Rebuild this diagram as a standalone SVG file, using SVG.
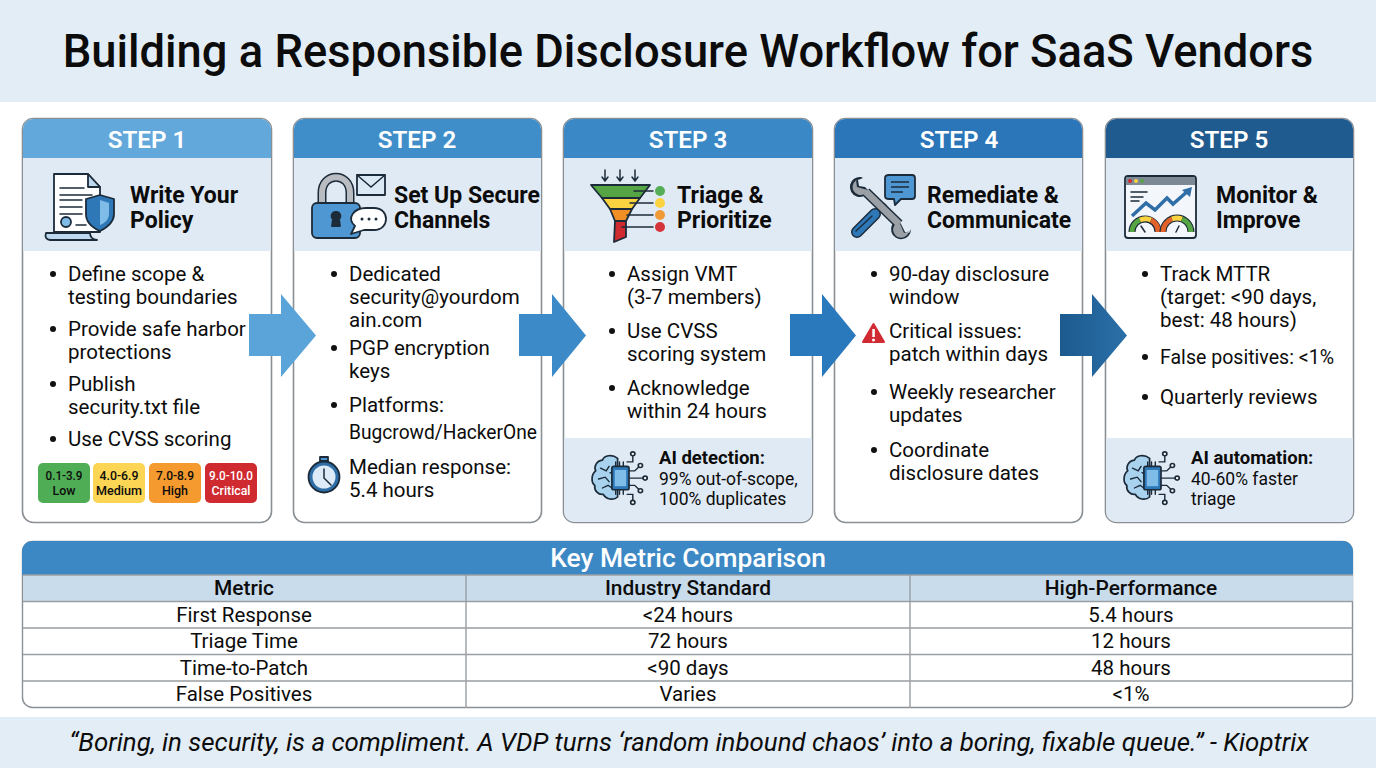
<svg xmlns="http://www.w3.org/2000/svg" width="1376" height="768" viewBox="0 0 1376 768">
<style>
text{font-family:Roboto,"Noto Sans","Liberation Sans",sans-serif;fill:#0c0c0c}
.title{font-size:45.300px;font-weight:500;text-anchor:middle}
.step{font-size:24.200px;font-weight:600;fill:#fff;text-anchor:middle}
.head{font-size:23px;font-weight:700}
.b{font-size:20.500px}
.ai{font-size:17.500px}
.aih{font-size:18.500px;font-weight:700}
.card{fill:#fff;stroke:#8a8f94;stroke-width:1.6}
.band{fill:#e0eaf4}
.bul{fill:#111}
.th{font-size:20.900px;font-weight:500;text-anchor:middle}
.td{font-size:20.500px;text-anchor:middle}
.rule{stroke:#9a9ea2;stroke-width:1.4;fill:none}
.sev{font-size:13.500px;font-weight:500;text-anchor:middle}
.ic{stroke:#1c2b3a;stroke-width:1.8;stroke-linejoin:round;stroke-linecap:round}
.thin{fill:none;stroke:#1c2b3a;stroke-width:1.5;stroke-linecap:round}
</style>
<defs>
<g id="brain">
<path class="ic" fill="#a9d2ee" d="M28 -3C22 -8 14 -6 12 -1C5 0 3 7 5 11C0 15 0 24 4 27C3 33 8 38 13 37C16 43 24 44 28 40Z"/>
<path class="thin" d="M10 8l6 3l3 -5M8 20l7 -2l4 5M12 30l6 -3l4 3M20 13l5 2"/>
<rect class="ic" x="22" y="6" width="18" height="26" rx="2" fill="#2f78b8"/>
<rect x="25" y="10" width="12" height="18" fill="#7fbce8"/>
<path class="thin" d="M26 6v-5M30 6v-5M34 6v-5M26 32v5M30 32v5M34 32v5M40 11h6l4 -4M40 19h15M40 27h6l4 4M38 1h6v-7M38 37h6v7"/>
<circle class="ic" cx="44" cy="-8" r="2.2" fill="#fff"/><circle class="ic" cx="52" cy="5" r="2.2" fill="#fff"/><circle class="ic" cx="57" cy="19" r="2.2" fill="#fff"/><circle class="ic" cx="52" cy="33" r="2.2" fill="#fff"/><circle class="ic" cx="44" cy="46" r="2.2" fill="#fff"/>
</g>
<linearGradient id="a4" x1="0" x2="1"><stop offset="0" stop-color="#1c5a8e"/><stop offset="1" stop-color="#2a70a8"/></linearGradient>
</defs>

<rect width="1376" height="102" fill="#e3edf6"/>
<rect y="717" width="1376" height="51" fill="#e3edf6"/>
<text class="title" x="688" y="67">Building a Responsible Disclosure Workflow for SaaS Vendors</text>

<g id="step1">
<rect class="card" x="22.500" y="118.500" width="249" height="404" rx="11"/>
<path d="M23 251V129a10 10 0 0 1 10 -10H261a10 10 0 0 1 10 10V251Z" class="band"/>
<path d="M23 158V129a10 10 0 0 1 10 -10H261a10 10 0 0 1 10 10V158Z" fill="#63a8db"/>
<text class="step" x="147" y="148">STEP 1</text>
<path class="ic" fill="#fff" d="M54 174H88L100 187V232H54Z"/><path class="ic" fill="#bcd9ef" d="M88 174V187H100Z"/>
<path class="thin" d="M60 188H84M60 195H92M60 200H82M60 207H82M60 214H82M76 225H86"/>
<circle class="ic" cx="66" cy="222" r="5" fill="#7fbce8"/>
<path class="ic" fill="#bcd9ef" d="M46 233H90Q90 239 97 240H50Q44 239 46 233Z"/>
<path class="ic" fill="#2f78b8" d="M100 195L114 199V214C114 223 106 228 100 231C93 228 86 223 86 214V199Z"/>
<path fill="#7fbce8" d="M100 200L109 203V214C109 219 105 223 100 225Z"/>
<text class="head" x="130" y="203">Write Your</text><text class="head" x="130" y="228">Policy</text>
<circle class="bul" cx="53" cy="274" r="3"/><text class="b" x="68" y="281">Define scope &amp;</text><text class="b" x="68" y="304">testing boundaries</text>
<circle class="bul" cx="53" cy="329" r="3"/><text class="b" x="68" y="336">Provide safe harbor</text><text class="b" x="68" y="359">protections</text>
<circle class="bul" cx="53" cy="384" r="3"/><text class="b" x="68" y="391">Publish</text><text class="b" x="68" y="414">security.txt file</text>
<circle class="bul" cx="53" cy="439" r="3"/><text class="b" x="68" y="446">Use CVSS scoring</text>
<rect x="38" y="463" width="52" height="40" rx="5" fill="#4fae55"/><text class="sev" x="64" y="480" textLength="37" lengthAdjust="spacingAndGlyphs">0.1-3.9</text><text class="sev" x="64" y="495" textLength="23" lengthAdjust="spacingAndGlyphs">Low</text>
<rect x="93" y="463" width="52" height="40" rx="5" fill="#fbd553"/><text class="sev" x="119" y="480" textLength="39" lengthAdjust="spacingAndGlyphs">4.0-6.9</text><text class="sev" x="119" y="495" textLength="46" lengthAdjust="spacingAndGlyphs">Medium</text>
<rect x="149" y="463" width="52" height="40" rx="5" fill="#f59a2e"/><text class="sev" x="175" y="480" textLength="38" lengthAdjust="spacingAndGlyphs">7.0-8.9</text><text class="sev" x="175" y="495" textLength="26" lengthAdjust="spacingAndGlyphs">High</text>
<rect x="205" y="463" width="52" height="40" rx="5" fill="#cf2a30"/><text class="sev" x="231" y="480" style="fill:#fff" textLength="44" lengthAdjust="spacingAndGlyphs">9.0-10.0</text><text class="sev" x="231" y="495" style="fill:#fff" textLength="39" lengthAdjust="spacingAndGlyphs">Critical</text>
</g>

<g id="step2">
<rect class="card" x="293.500" y="118.500" width="248" height="404" rx="11"/>
<path d="M294 251V129a10 10 0 0 1 10 -10H531a10 10 0 0 1 10 10V251Z" class="band"/>
<path d="M294 158V129a10 10 0 0 1 10 -10H531a10 10 0 0 1 10 10V158Z" fill="#408ec9"/>
<text class="step" x="417" y="148">STEP 2</text>
<path d="M322 204V193C322 172 350 172 350 193V204" fill="none" stroke="#1c2b3a" stroke-width="9"/>
<path d="M322 204V193C322 172 350 172 350 193V204" fill="none" stroke="#b9bdc2" stroke-width="6"/>
<rect class="ic" x="312" y="203" width="48" height="35" rx="5" fill="#4f97d2"/>
<path class="ic" fill="#1c2b3a" d="M336 212a4 4 0 0 1 3 7l1 7h-8l1 -7a4 4 0 0 1 3 -7Z"/>
<rect class="ic" x="357" y="175" width="28" height="20" fill="#dbe9f5"/><path class="thin" d="M357 175L371 187L385 175"/>
<path class="ic" fill="#fff" d="M366 208H374C390 208 390 230 374 230H364L351 234L355 226C346 218 354 208 366 208Z"/>
<circle cx="362" cy="219" r="1.500" fill="#1c2b3a"/><circle cx="369" cy="219" r="1.500" fill="#1c2b3a"/><circle cx="376" cy="219" r="1.500" fill="#1c2b3a"/>
<text class="head" x="394" y="203">Set Up Secure</text><text class="head" x="394" y="228">Channels</text>
<circle class="bul" cx="334" cy="274" r="3"/><text class="b" x="349" y="281">Dedicated</text><text class="b" x="349" y="304">security@yourdom</text><text class="b" x="349" y="327">ain.com</text>
<circle class="bul" cx="334" cy="348" r="3"/><text class="b" x="349" y="355">PGP encryption</text><text class="b" x="349" y="378">keys</text>
<circle class="bul" cx="334" cy="405" r="3"/><text class="b" x="349" y="412">Platforms:</text><text class="b" x="349" y="439" textLength="188" lengthAdjust="spacingAndGlyphs">Bugcrowd/HackerOne</text>
<rect class="ic" x="320" y="457" width="8" height="4" fill="#4f97d2"/>
<circle class="ic" cx="324" cy="477" r="15.500" fill="#2f6ea6"/><circle cx="324" cy="477" r="11.500" fill="#dcebf7"/>
<path class="thin" d="M324 469V478L331 485"/>
<text class="b" x="349" y="474">Median response:</text><text class="b" x="349" y="497">5.4 hours</text>
</g>

<g id="step3">
<rect class="card" x="563.500" y="118.500" width="249" height="404" rx="11"/>
<path d="M564 251V129a10 10 0 0 1 10 -10H802a10 10 0 0 1 10 10V251Z" class="band"/>
<path d="M564 158V129a10 10 0 0 1 10 -10H802a10 10 0 0 1 10 10V158Z" fill="#3b88c6"/>
<text class="step" x="688" y="148">STEP 3</text>
<path class="thin" d="M605 170V181M602 177L605 181L608 177M620 170V181M617 177L620 181L623 177M635 170V181M632 177L635 181L638 177"/>
<path class="ic" fill="#56a544" d="M591 185H650L640 198H602Z"/><path class="ic" fill="#fbd23f" d="M602 198H640L632 209H610Z"/><path class="ic" fill="#f18f25" d="M610 209H632L626 221H615Z"/><path class="ic" fill="#cf2a30" d="M615 221H626V237L614 242Z"/>
<path class="thin" d="M634 191H653M630 203H653M627 215H653M622 227H653"/>
<circle cx="660" cy="191" r="5" fill="#56ad57"/><circle cx="660" cy="203" r="5" fill="#fbd23f"/><circle cx="660" cy="215" r="5" fill="#f19a38"/><circle cx="660" cy="227" r="5" fill="#d5343a"/>
<text class="head" x="677" y="203">Triage &amp;</text><text class="head" x="677" y="228">Prioritize</text>
<circle class="bul" cx="612" cy="274" r="3"/><text class="b" x="627" y="281">Assign VMT</text><text class="b" x="627" y="304">(3-7 members)</text>
<circle class="bul" cx="612" cy="331" r="3"/><text class="b" x="627" y="338">Use CVSS</text><text class="b" x="627" y="361">scoring system</text>
<circle class="bul" cx="612" cy="388" r="3"/><text class="b" x="627" y="395">Acknowledge</text><text class="b" x="627" y="418">within 24 hours</text>
<path class="band" d="M564 438H812V512a10 10 0 0 1 -10 10H574a10 10 0 0 1 -10 -10Z"/>
<use href="#brain" transform="translate(591 461) scale(.95 .9)"/>
<text class="aih" x="659" y="464">AI detection:</text><text class="ai" x="659" y="485">99% out-of-scope,</text><text class="ai" x="659" y="505">100% duplicates</text>
</g>

<g id="step4">
<rect class="card" x="834.500" y="118.500" width="248" height="404" rx="11"/>
<path d="M835 251V129a10 10 0 0 1 10 -10H1072a10 10 0 0 1 10 10V251Z" class="band"/>
<path d="M835 158V129a10 10 0 0 1 10 -10H1072a10 10 0 0 1 10 10V158Z" fill="#2a76b9"/>
<text class="step" x="959" y="148">STEP 4</text>
<path d="M878 212L886 204" stroke="#9aa0a6" stroke-width="4"/>
<path d="M857 232L875 214" stroke="#1c2b3a" stroke-width="12" stroke-linecap="round"/>
<path d="M857 232L875 214" stroke="#2f78b8" stroke-width="9" stroke-linecap="round"/>
<path d="M856 231L872 216" stroke="#1c2b3a" stroke-width="1.400" stroke-linecap="round"/>
<path d="M866 192L899 224" stroke="#1c2b3a" stroke-width="10"/>
<path d="M861 177A10 10 0 1 0 869 191L865 187L859 186L858 180L863 178Z M911 229A10 10 0 1 1 897 220L901 224L905 232L909 233Z" fill="#1c2b3a"/>
<path d="M861 179A8 8 0 1 0 868 190L864 189L857 187L856 180Z M909 231A8 8 0 1 1 899 222L901 226L904 233Z" fill="#9aa0a6"/>
<path d="M866 192L899 224" stroke="#9aa0a6" stroke-width="7"/>
<path class="ic" fill="#4f97d2" d="M889 175H912Q915 175 915 178V196Q915 199 912 199H901L895 205L894 199H889Q885 199 885 196V178Q885 175 889 175Z"/>
<path d="M891 182H909M891 187H909M891 192H903" fill="none" stroke="#1c2b3a" stroke-width="1.400"/>
<text class="head" x="927" y="203">Remediate &amp;</text><text class="head" x="927" y="228">Communicate</text>
<circle class="bul" cx="874" cy="274" r="3"/><text class="b" x="889" y="281">90-day disclosure</text><text class="b" x="889" y="304">window</text>
<path d="M873.500 324L884 342H863Z" fill="#d12a32" stroke="#d12a32" stroke-width="2" stroke-linejoin="round"/><rect x="872.300" y="329" width="2.500" height="8" fill="#fff"/><circle cx="873.500" cy="340" r="1.500" fill="#fff"/>
<text class="b" x="889" y="338">Critical issues:</text><text class="b" x="889" y="361">patch within days</text>
<circle class="bul" cx="874" cy="392" r="3"/><text class="b" x="889" y="399">Weekly researcher</text><text class="b" x="889" y="422">updates</text>
<circle class="bul" cx="874" cy="450" r="3"/><text class="b" x="889" y="457">Coordinate</text><text class="b" x="889" y="480">disclosure dates</text>
</g>

<g id="step5">
<rect class="card" x="1105.500" y="118.500" width="248" height="404" rx="11"/>
<path d="M1106 251V129a10 10 0 0 1 10 -10H1343a10 10 0 0 1 10 10V251Z" class="band"/>
<path d="M1106 158V129a10 10 0 0 1 10 -10H1343a10 10 0 0 1 10 10V158Z" fill="#1f5b8e"/>
<text class="step" x="1229" y="148">STEP 5</text>
<rect class="ic" x="1125" y="176" width="71" height="62" rx="3" fill="#f3f7fb"/>
<path d="M1126 177H1195V185H1126Z" fill="#7d8a96"/>
<circle cx="1130" cy="181" r="2" fill="#cf2a30"/><circle cx="1136" cy="181" r="2" fill="#fbd23f"/><circle cx="1142" cy="181" r="2" fill="#56a544"/>
<path class="thin" d="M1131 192H1147M1131 197H1143M1131 201H1139"/>
<path d="M1132 216L1146 203L1155 210L1167 198L1173 204L1189 190" fill="none" stroke="#2f6ea6" stroke-width="3.500"/><path d="M1182 190L1192 187L1190 197Z" fill="#2f6ea6"/>
<path d="M1132 232a13 13 0 0 1 26 0" fill="none" stroke="#1c2b3a" stroke-width="7"/><path d="M1132 232a13 13 0 0 1 8 -12" fill="none" stroke="#56a544" stroke-width="5"/><path d="M1140 220a13 13 0 0 1 11 0" fill="none" stroke="#fbd23f" stroke-width="5"/><path d="M1151 220a13 13 0 0 1 7 12" fill="none" stroke="#e2622b" stroke-width="5"/>
<path d="M1163 232a14 14 0 0 1 28 0" fill="none" stroke="#1c2b3a" stroke-width="7"/><path d="M1163 232a14 14 0 0 1 9 -13" fill="none" stroke="#e2622b" stroke-width="5"/><path d="M1172 219a14 14 0 0 1 10 0" fill="none" stroke="#fbd23f" stroke-width="5"/><path d="M1182 219a14 14 0 0 1 9 13" fill="none" stroke="#56a544" stroke-width="5"/>
<path class="thin" d="M1145 232L1141 226M1176 232L1179 226"/>
<text class="head" x="1216" y="203">Monitor &amp;</text><text class="head" x="1216" y="228">Improve</text>
<circle class="bul" cx="1145" cy="274" r="3"/><text class="b" x="1160" y="281">Track MTTR</text><text class="b" x="1160" y="304">(target: &lt;90 days,</text><text class="b" x="1160" y="327">best: 48 hours)</text>
<circle class="bul" cx="1145" cy="357" r="3"/><text class="b" x="1160" y="364" textLength="174" lengthAdjust="spacingAndGlyphs">False positives: &lt;1%</text>
<circle class="bul" cx="1145" cy="397" r="3"/><text class="b" x="1160" y="404">Quarterly reviews</text>
<path class="band" d="M1106 438H1353V512a10 10 0 0 1 -10 10H1116a10 10 0 0 1 -10 -10Z"/>
<use href="#brain" transform="translate(1123 461) scale(.95 .9)"/>
<text class="aih" x="1191" y="464">AI automation:</text><text class="ai" x="1191" y="485">40-60% faster</text><text class="ai" x="1191" y="505">triage</text>
</g>

<g id="connectors">
<path d="M249 314H281V294L316 335.500L281 377V356H249Z" fill="#5ba4da"/>
<path d="M519 314H552V294L586 335.500L552 377V356H519Z" fill="#3c8bc8"/>
<path d="M790 314H822V294L856 335.500L822 377V356H790Z" fill="#2b79bd"/>
<path d="M1060 314H1092V294L1127 335.500L1092 377V356H1060Z" fill="url(#a4)"/>
</g>

<g id="metrics-table">
<rect x="22.500" y="541.500" width="1330" height="166" rx="10" fill="#fff" stroke="#8a8f94" stroke-width="1.400"/>
<path d="M22 575V551a10 10 0 0 1 10 -10H1343a10 10 0 0 1 10 10V575Z" fill="#3c88c4"/>
<rect x="23" y="575" width="1330" height="26" fill="#c9dcec"/>
<path class="rule" d="M23 575H1353M23 601.500H1353M23 628H1353M23 654.500H1353M23 681H1353M466 575V708M910 575V708"/>
<text x="688" y="567" style="font-size:26.400px;font-weight:500;fill:#fff;text-anchor:middle">Key Metric Comparison</text>
<text class="th" x="244" y="595">Metric</text><text class="th" x="688" y="595">Industry Standard</text><text class="th" x="1131" y="595">High-Performance</text>
<text class="td" x="244" y="622">First Response</text><text class="td" x="688" y="622">&lt;24 hours</text><text class="td" x="1131" y="622">5.4 hours</text>
<text class="td" x="244" y="648">Triage Time</text><text class="td" x="688" y="648">72 hours</text><text class="td" x="1131" y="648">12 hours</text>
<text class="td" x="244" y="675">Time-to-Patch</text><text class="td" x="688" y="675">&lt;90 days</text><text class="td" x="1131" y="675">48 hours</text>
<text class="td" x="244" y="701">False Positives</text><text class="td" x="688" y="701">Varies</text><text class="td" x="1131" y="701">&lt;1%</text>
</g>
<text x="689" y="751" style="font-size:25.850px;font-style:italic;text-anchor:middle">“Boring, in security, is a compliment. A VDP turns ‘random inbound chaos’ into a boring, fixable queue.” - Kioptrix</text>
</svg>
